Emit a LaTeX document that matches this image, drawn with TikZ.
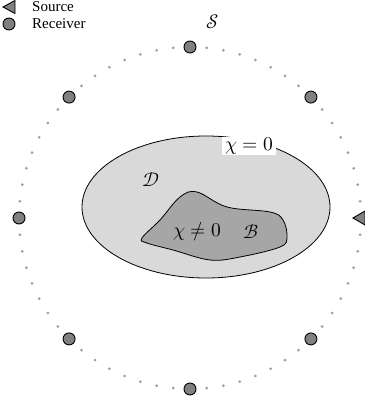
\documentclass[tikz,border=0pt]{standalone}
\usepackage{fontspec}
\setmainfont{Liberation Serif}
\usepackage{unicode-math}
\setmathfont{Latin Modern Math}
\usetikzlibrary{calc,shapes.geometric}
\begin{document}
\begin{tikzpicture}[x=1pt,y=-1pt,
  recv/.style={circle,draw=black,line width=0.9pt,fill=black!50,minimum size=12pt,inner sep=0pt},
  ringdot/.style={circle,fill=black!38,minimum size=3pt,inner sep=0pt},
  srcshape/.style={draw=black,line width=0.9pt,fill=black!50,line join=miter},
  lbl/.style={font=\fontsize{15}{17}\selectfont,inner sep=0pt},
  mathlbl/.style={font=\fontsize{19.5}{22}\selectfont,inner sep=1pt}]
\useasboundingbox (0,0) rectangle (364,404);
% ring of dots
\foreach \i in {0,...,63}{
  \pgfmathtruncatemacro{\m}{mod(\i,8)}
  \pgfmathsetmacro{\ang}{\i*5.625}
  \ifnum\m=0\else
    \node[ringdot] (d\i) at ({190+171*cos(\ang)},{218-171*sin(\ang)}) {};
  \fi
}
% receivers
\foreach \a/\n in {45/r1,90/r2,135/r3,180/r4,225/r5,270/r6,315/r7}{
  \node[recv] (\n) at ({190+171*cos(\a)},{218-171*sin(\a)}) {};
}
% source on the right
\coordinate (src) at (361,218);
\draw[srcshape] ($(src)+(-8,0)$) -- ($(src)+(4,-7)$) -- ($(src)+(4,7)$) -- cycle;
% domain D
\node[ellipse,draw=black,line width=0.8pt,fill=black!15,minimum width=248pt,minimum height=142pt] (D) at (206,207) {};
% object B
\draw[line width=0.8pt,fill=black!35] plot[smooth cycle,tension=0.6] coordinates{
 (142,238) (160,220) (180,197) (197,192) (227,207) (270,212) (283,220) (287,237) (280,247) (240,257) (210,260) (173,250) (147,243)};
\node[mathlbl] (chi1) at (197,232) {$\chi \neq 0$};
\node[mathlbl] (B) at (251,232) {$\mathcal{B}$};
\node[mathlbl] (Dl) at (151,180) {$\mathcal{D}$};
\node[mathlbl,fill=white,inner xsep=3pt] (chi0) at (249,146) {$\chi = 0$};
\node[mathlbl] (S) at (213,22) {$\mathcal{S}$};
% legend
\draw[srcshape] (3,7) -- (15,0.5) -- (15,13.5) -- cycle;
\node[lbl,anchor=west] (ls) at (32,7) {Source};
\node[recv] (lr) at (9,24) {};
\node[lbl,anchor=west] (lrt) at (32,24) {Receiver};
\end{tikzpicture}
\end{document}
